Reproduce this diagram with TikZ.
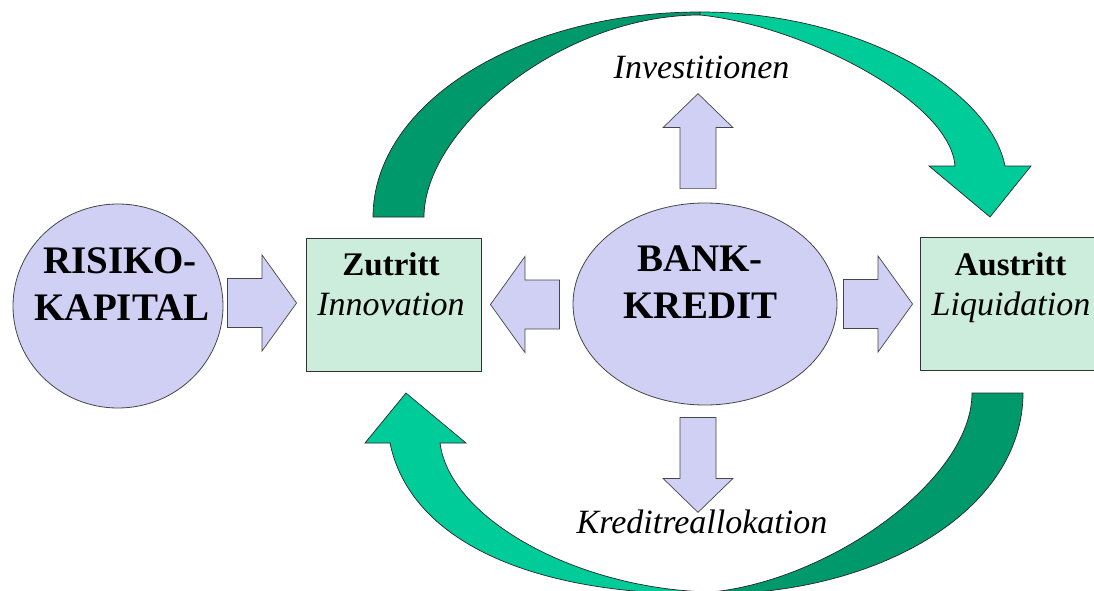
\documentclass[tikz,border=0pt]{standalone}
\usepackage{fontspec}
\setmainfont{Liberation Serif}
\usetikzlibrary{calc,shapes.geometric}
\definecolor{lav}{RGB}{208,208,245}
\definecolor{mint}{RGB}{204,236,220}
\definecolor{gdark}{RGB}{0,153,108}
\definecolor{glight}{RGB}{0,204,153}
\definecolor{edgec}{RGB}{70,70,70}
\begin{document}
\begin{tikzpicture}[x=1pt,y=-1pt,
  blob/.style={ellipse, draw=edgec, line width=0.8pt, fill=lav, inner sep=0pt},
  box/.style={rectangle, draw=black!80, line width=0.9pt, fill=mint, inner sep=0pt, minimum width=175pt, minimum height=133pt},
  bigtxt/.style={font=\fontsize{39}{47}\selectfont\bfseries, inner sep=0pt, anchor=base},
  boldtxt/.style={font=\fontsize{33}{40}\selectfont\bfseries, inner sep=0pt, anchor=base},
  ittxt/.style={font=\fontsize{34}{40}\selectfont\itshape, inner sep=0pt, anchor=base},
  afill/.style={fill=lav, draw=edgec, line width=0.7pt, line join=miter},
  gd/.style={fill=gdark, draw=black!85, line width=0.7pt},
  gl/.style={fill=glight, draw=black!85, line width=0.7pt},
  harrow/.pic={\path[afill] (-34.5,-24.5) -- (0,-24.5) -- (0,-48) -- (34.5,0) -- (0,48) -- (0,24.5) -- (-34.5,24.5) -- cycle;},
  varrow/.pic={\path[afill] (-47.5,-18) -- (13.5,-18) -- (13.5,-35) -- (47.5,0) -- (13.5,35) -- (13.5,18) -- (-47.5,18) -- cycle;}
]
\useasboundingbox (0,0) rectangle (1094,591);
\fill[white] (0,0) rectangle (1094,591);
\clip (0,0) rectangle (1094,591);

% main nodes
\node[blob, minimum width=210pt, minimum height=204pt] (risiko) at (118,306) {};
\node[blob, minimum width=264pt, minimum height=202pt] (bank) at (705,304) {};
\node[box] (zutritt) at (393.5,304.5) {};
\node[box, minimum width=180pt] (austritt) at (1010,303.5) {};

% texts
\node[bigtxt] (r1) at (120,273) {RISIKO-};
\node[bigtxt] (r2) at (122,320) {KAPITAL};
\node[bigtxt] (b1) at (700,271) {BANK-};
\node[bigtxt] (b2) at (700.5,318) {KREDIT};
\node[boldtxt] (z1) at (391,275) {Zutritt};
\node[ittxt] (z2) at (391,315) {Innovation};
\node[boldtxt] (a1) at (1010.5,275) {Austritt};
\node[ittxt] (a2) at (1011,315) {Liquidation};
\node[ittxt] (inv) at (701.5,79) {Investitionen};
\node[ittxt] (kre) at (702,533) {Kreditreallokation};

% block arrows
\pic at ($(zutritt.west)+(-43.5,-1.5)$) {harrow};
\pic[rotate=180] at ($(zutritt.east)+(43.5,0)$) {harrow};
\pic at ($(austritt.west)+(-41.5,0.5)$) {harrow};
\pic[rotate=90] at ($(bank.north)+(-7,-61.5)$) {varrow};
\pic[rotate=-90] at ($(bank.south)+(-7,59.5)$) {varrow};

% curved green arrows
\coordinate (topO) at (700,12);
\coordinate (topI) at (700,15);
\coordinate (botO) at (712,594);
\coordinate (botI) at (712,592);
\path[gd] (373,217) .. controls (373,104) and (519,12) .. (topO) -- (topI)
  .. controls (560,15) and (424,130) .. (424,217) -- cycle;
\path[gl] (topO) .. controls (860,12) and (990,90) .. (1005,166) -- (1031,166) -- (990,217)
  -- (929,166) -- (955,166) .. controls (950,100) and (800,25) .. (topI) -- cycle;
\path[gd] (972,393) -- (1023,393) .. controls (1023,510) and (880,594) .. (botO) -- (botI)
  .. controls (830,580) and (972,480) .. (972,393) -- cycle;
\path[gl] (botO) .. controls (530,596) and (410,540) .. (390,443) -- (365,443) -- (406,393)
  -- (466,443) -- (440,443) .. controls (450,520) and (580,590) .. (botI) -- cycle;
\end{tikzpicture}
\end{document}
